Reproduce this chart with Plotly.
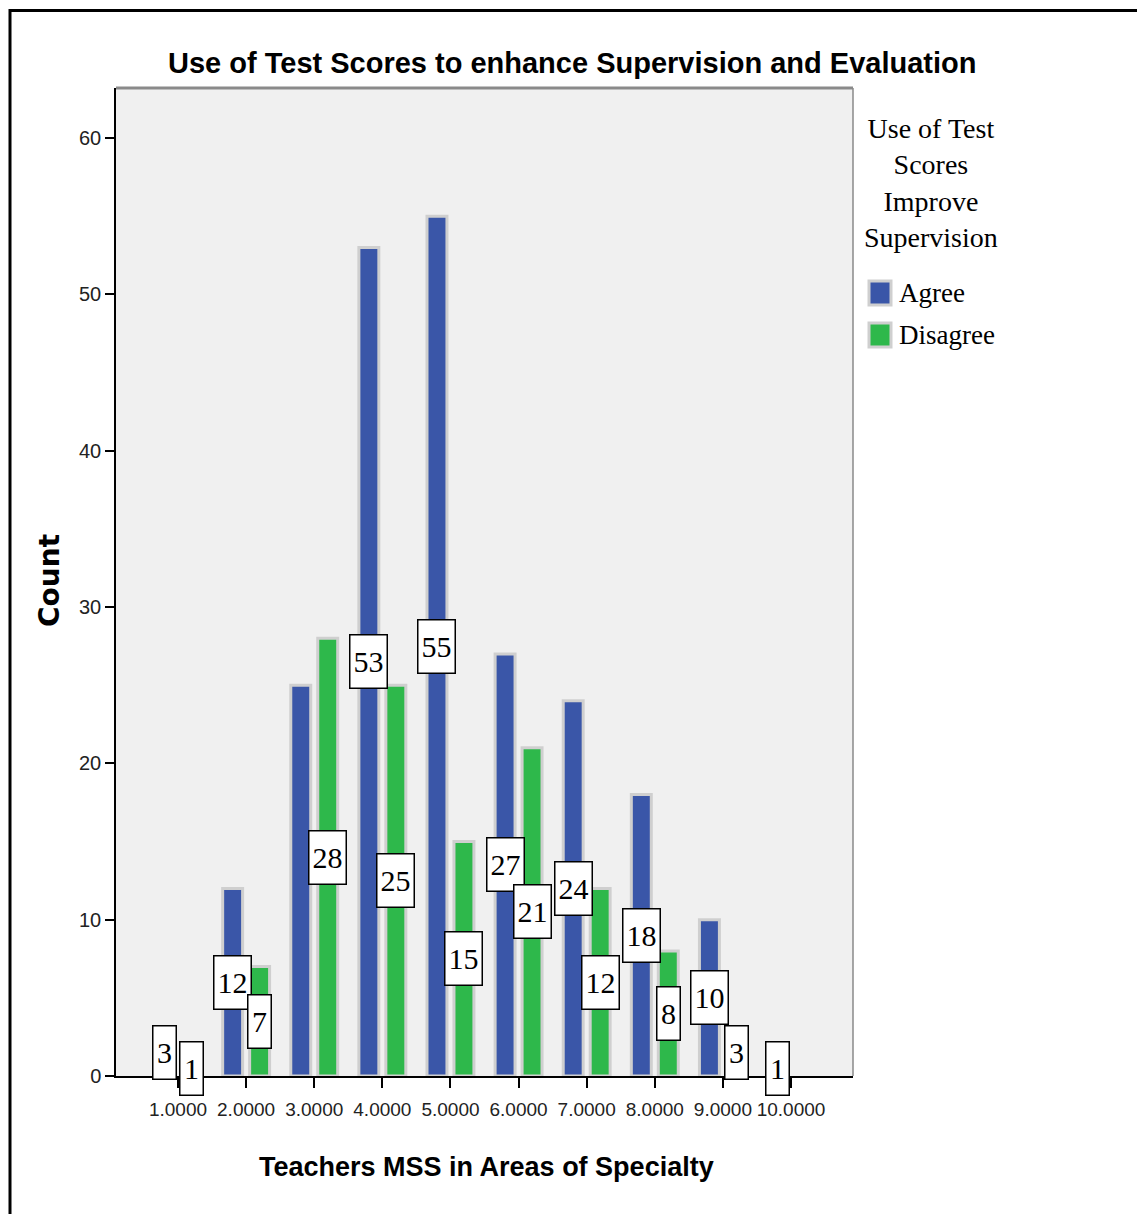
import plotly.graph_objects as go

# Crosstab counts: Teachers MSS in Areas of Specialty vs. opinion on test scores
categories = [1, 2, 3, 4, 5, 6, 7, 8, 9, 10]
tick_labels = ["1.0000", "2.0000", "3.0000", "4.0000", "5.0000",
               "6.0000", "7.0000", "8.0000", "9.0000", "10.0000"]
agree = [3, 12, 25, 53, 55, 27, 24, 18, 10, 1]
disagree = [1, 7, 28, 25, 15, 21, 12, 8, 3, 0]
series_names = ["Agree", "Disagree"]
series_colors = ["#3a56a8", "#2eb84b"]
# value labels suppressed where they would collide with a neighbour
hidden_labels = [("Agree", 3)]

W, H = 1137, 1214
L, R, T, B = 116, 284, 88, 138
PW, PH = W - L - R, H - T - B
X_RANGE = [0.0896, 10.91]
Y_RANGE = [0, 63.2]


def px_x(px):
    return (px - L) / PW


def px_y(py):
    return (H - B - py) / PH


BAR_W = 0.293      # bar width in category units
SHIFT = 0.198      # distance of each bar centre from the category tick
HALO = "#cfcfcf"

sans = "Liberation Sans, Arial, sans-serif"
serif = "Liberation Serif, Times New Roman, serif"

fig = go.Figure()
for name, vals, color, sign in zip(series_names, [agree, disagree], series_colors, [-1, 1]):
    fig.add_trace(go.Bar(
        x=categories, y=vals, name=name,
        width=BAR_W, offset=sign * SHIFT - BAR_W / 2,
        marker=dict(color=color,
                    line=dict(color=HALO, width=[3 if v > 0 else 0 for v in vals])),
        hoverinfo="skip", showlegend=False,
    ))

annotations = []
# value boxes centred at half the bar height
for name, vals, sign in zip(series_names, [agree, disagree], [-1, 1]):
    for c, v in zip(categories, vals):
        if v == 0 or (name, c) in hidden_labels:
            continue
        annotations.append(dict(
            x=c + sign * SHIFT, y=v / 2, xref="x", yref="y",
            text=str(v), showarrow=False,
            font=dict(family=serif, size=30, color="black"),
            bgcolor="white", bordercolor="black", borderwidth=1.5, borderpad=1,
            width=20 if v < 10 else 34, height=50,
            xanchor="center", yanchor="middle",
        ))

# chart title
annotations.append(dict(
    x=px_x(572), y=px_y(63), xref="paper", yref="paper",
    text="<b>Use of Test Scores to enhance Supervision and Evaluation</b>",
    showarrow=False, xanchor="center", yanchor="middle",
    font=dict(family=sans, size=29, color="black"),
))
# axis titles
annotations.append(dict(
    x=px_x(486), y=px_y(1167), xref="paper", yref="paper",
    text="<b>Teachers MSS in Areas of Specialty</b>",
    showarrow=False, xanchor="center", yanchor="middle",
    font=dict(family=sans, size=27, color="black"),
))
annotations.append(dict(
    x=px_x(49), y=px_y(581), xref="paper", yref="paper",
    text="<b>Count</b>", textangle=-90,
    showarrow=False, xanchor="center", yanchor="middle",
    font=dict(family="DejaVu Sans, Verdana, sans-serif", size=28, color="black"),
))
# legend title
annotations.append(dict(
    x=px_x(931), y=px_y(183), xref="paper", yref="paper",
    text="Use of Test<br>Scores<br>Improve<br>Supervision", align="center",
    showarrow=False, xanchor="center", yanchor="middle",
    font=dict(family=serif, size=28, color="black"),
))

shapes = []
# legend swatches and labels
for i, (name, color) in enumerate(zip(series_names, series_colors)):
    cy = 293 + i * 42
    shapes.append(dict(
        type="rect", xref="paper", yref="paper",
        x0=px_x(869), x1=px_x(891), y0=px_y(cy + 12), y1=px_y(cy - 12),
        fillcolor=color, line=dict(color=HALO, width=3),
    ))
    annotations.append(dict(
        x=px_x(897), y=px_y(cy), xref="paper", yref="paper",
        text=name, showarrow=False, xanchor="left", yanchor="middle",
        font=dict(family=serif, size=27, color="black"),
    ))

# plot-area top and right edges
shapes.append(dict(type="line", xref="paper", yref="paper",
                   x0=0, x1=1, y0=1, y1=1, line=dict(color="#8a8a8a", width=3)))
shapes.append(dict(type="line", xref="paper", yref="paper",
                   x0=1, x1=1, y0=0, y1=1, line=dict(color="#8a8a8a", width=1.5)))
# outer frame
shapes.append(dict(type="rect", xref="paper", yref="paper",
                   x0=px_x(10), x1=px_x(1160), y0=px_y(1240), y1=px_y(10.5),
                   line=dict(color="black", width=3), fillcolor="rgba(0,0,0,0)"))

fig.update_layout(
    width=W, height=H,
    margin=dict(l=L, r=R, t=T, b=B, pad=0),
    paper_bgcolor="white", plot_bgcolor="#f0f0f0",
    barmode="overlay", showlegend=False,
    annotations=annotations, shapes=shapes,
    xaxis=dict(
        range=X_RANGE, tickmode="array", tickvals=categories, ticktext=tick_labels,
        tickangle=0, ticklabelstandoff=5,
        ticks="outside", ticklen=10, tickwidth=1.5, tickcolor="black",
        showline=True, linecolor="black", linewidth=1.5,
        showgrid=False, zeroline=False, fixedrange=True,
        tickfont=dict(family=sans, size=19, color="#222"),
    ),
    yaxis=dict(
        range=Y_RANGE, tickmode="array", tickvals=[0, 10, 20, 30, 40, 50, 60],
        ticks="outside", ticklen=9, tickwidth=1.5, tickcolor="black",
        showline=True, linecolor="black", linewidth=1.5,
        showgrid=False, zeroline=False, fixedrange=True,
        tickfont=dict(family=sans, size=20, color="#222"),
    ),
)

fig.write_html("out.html")
